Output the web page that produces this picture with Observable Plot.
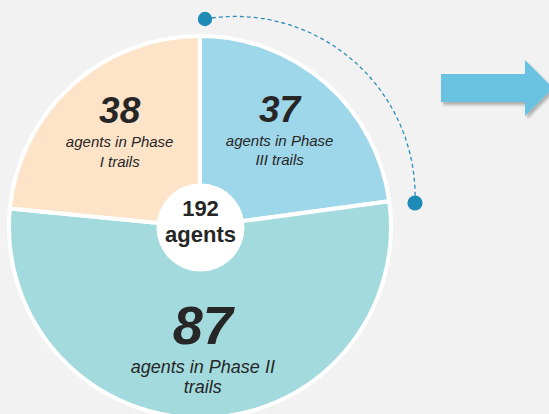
<!DOCTYPE html>
<html>
<head>
<meta charset="utf-8">
<script src="https://cdn.jsdelivr.net/npm/d3@7"></script>
<script src="https://cdn.jsdelivr.net/npm/@observablehq/plot@0.6"></script>
<style>
  html, body { margin: 0; padding: 0; background: #f2f2f2; }
  #chart { width: 549px; height: 414px; overflow: hidden; }
  #chart svg { display: block; }
</style>
</head>
<body>
<div id="chart"></div>
<script>
// ---- data ----
const phases = ["Phase III", "Phase II", "Phase I"];
const agents = [37, 87, 38];
const labelLine1 = ["agents in Phase", "agents in Phase II", "agents in Phase"];
const labelLine2 = ["III trails", "trails", "I trails"];
const totalValue = "192";
const totalUnit = "agents";

// ---- styling / layout ----
const W = 549, H = 414;
const CX = 200, CY = 227, RPX = 191;     // pie centre and radius in px
const fills = { "Phase III": "#9fd7ea", "Phase II": "#a3dadd", "Phase I": "#fde3c8" };
const ink = "#262626";
const font = "'Liberation Sans', Arial, Helvetica, sans-serif";
const labelR = 0.63;   // label anchor, fraction of radius

const data = phases.map((p, i) => ({ phase: p, agents: agents[i], line1: labelLine1[i], line2: labelLine2[i] }));
const arcs = d3.pie().sort(null).value(d => d.agents)(data);
const slices = arcs.map(a => {
  const mid = (a.startAngle + a.endAngle) / 2;
  return { ...a.data, startAngle: a.startAngle, endAngle: a.endAngle,
           lx: labelR * Math.sin(mid), ly: labelR * Math.cos(mid) };
});
const maxAgents = d3.max(agents);
const big = slices.filter(d => d.agents === maxAgents);
const small = slices.filter(d => d.agents !== maxAgents);

// custom mark: pie slices through the plot's x/y scales
function pieMark(index, scales) {
  const { x, y } = scales;
  const cx = x(0), cy = y(0), r = x(1) - x(0);
  const g = d3.create("svg:g").attr("transform", `translate(${cx},${cy})`);
  const arc = d3.arc().innerRadius(0).outerRadius(r);
  g.selectAll("path").data(slices).join("path")
    .attr("d", d => arc(d))
    .attr("fill", d => fills[d.phase])
    .attr("stroke", "white")
    .attr("stroke-width", 4)
    .attr("stroke-linejoin", "round");
  return g.node();
}

// decoration: dashed connector arc with end dots, and arrow
function decoMark(index, scales) {
  const { x, y } = scales;
  const cx = x(0), cy = y(0), k = (x(1) - x(0)) / RPX;
  const P = (dx, dy) => [cx + dx * k, cy + dy * k];
  const g = d3.create("svg:g");
  const defs = g.append("defs");
  const f = defs.append("filter").attr("id", "sh").attr("x", "-20%").attr("y", "-20%").attr("width", "150%").attr("height", "160%");
  f.append("feDropShadow").attr("dx", 2).attr("dy", 3).attr("stdDeviation", 1.6)
    .attr("flood-color", "#000").attr("flood-opacity", 0.28);
  const a = P(5, -208), b = P(215, -24), rr = 180 * k;
  g.append("path")
    .attr("d", `M${a[0]},${a[1]} A${rr},${rr} 0 0 1 ${b[0]},${b[1]}`)
    .attr("fill", "none").attr("stroke", "#2e8fbb").attr("stroke-width", 1.3)
    .attr("stroke-dasharray", "4 3");
  g.append("circle").attr("cx", a[0]).attr("cy", a[1]).attr("r", 7.2 * k).attr("fill", "#1f8ab6");
  g.append("circle").attr("cx", b[0]).attr("cy", b[1]).attr("r", 7.6 * k).attr("fill", "#1f8ab6");
  const pts = [P(241, -153), P(325, -153), P(325, -167), P(353, -139), P(325, -111), P(325, -125), P(241, -125)];
  g.append("polygon").attr("points", pts.map(p => p.join(",")).join(" "))
    .attr("fill", "#67c2e0").attr("filter", "url(#sh)");
  return g.node();
}

function labelMarks(rows, o) {
  const common = { x: "lx", y: "ly", fill: ink, fontFamily: font, textAnchor: "middle", lineAnchor: "bottom" };
  return [
    Plot.text(rows, { ...common, text: d => String(d.agents), fontSize: o.num, fontWeight: "bold", fontStyle: "italic", dy: o.d0 }),
    Plot.text(rows, { ...common, text: "line1", fontSize: o.txt, fontStyle: "italic", dy: o.d1 }),
    Plot.text(rows, { ...common, text: "line2", fontSize: o.txt, fontStyle: "italic", dy: o.d2 })
  ];
}

const centre = [{ x: 0, y: 0 }];

const chart = Plot.plot({
  width: W, height: H,
  margin: 0,
  x: { domain: [-CX / RPX, (W - CX) / RPX], range: [0, W], axis: null },
  y: { domain: [-(H - CY) / RPX, CY / RPX], range: [H, 0], axis: null },
  style: { background: "#f2f2f2", fontFamily: font, overflow: "hidden" },
  marks: [
    pieMark,
    ...labelMarks(small, { num: 37, txt: 15, d0: -15, d1: 9, d2: 28.5 }),
    ...labelMarks(big, { num: 54, txt: 18, d0: -4, d1: 25, d2: 45.5 }),
    Plot.dot(centre, { x: "x", y: "y", r: 44, fill: "white", stroke: null }),
    Plot.text(centre, { x: "x", y: "y", text: () => totalValue, fontSize: 22, fontWeight: "bold", fill: ink, fontFamily: font, lineAnchor: "bottom", dy: -12 }),
    Plot.text(centre, { x: "x", y: "y", text: () => totalUnit, fontSize: 22, fontWeight: "bold", fill: ink, fontFamily: font, lineAnchor: "bottom", dy: 14 }),
    decoMark
  ]
});
document.getElementById("chart").appendChild(chart);
</script>
</body>
</html>
